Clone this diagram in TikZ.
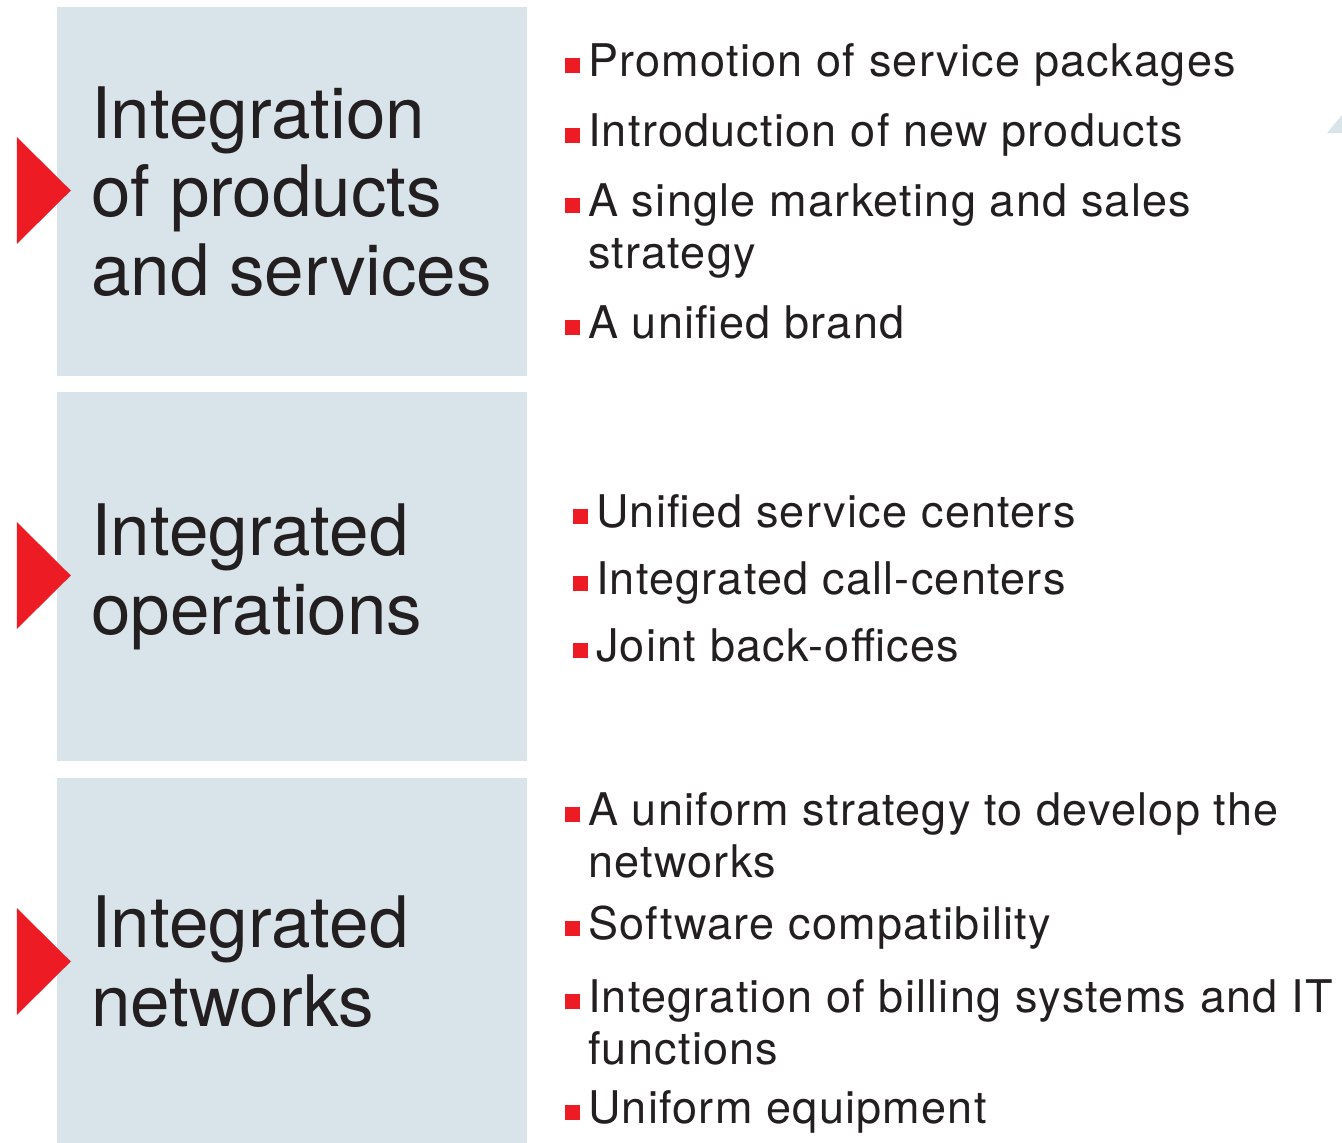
\documentclass[tikz,border=0pt]{standalone}
\usepackage{fontspec}
\setmainfont{TeX Gyre Heros}
\newfontfamily\listfont{TeX Gyre Heros}[LetterSpace=2.8]
\usetikzlibrary{calc}

\definecolor{panelblue}{HTML}{D9E4EA}
\definecolor{markred}{HTML}{ED1C24}
\definecolor{inkgray}{HTML}{231F20}

\tikzstyle{panel}=[rectangle,fill=panelblue,minimum width=470pt,minimum height=369pt,inner sep=0pt]
\tikzstyle{title}=[anchor=base west,align=left,inner sep=0pt,text=inkgray,font=\fontsize{71}{78.5}\selectfont]
\tikzstyle{item}=[anchor=base west,align=left,inner sep=0pt,text=inkgray,font=\listfont\fontsize{45}{52.5}\selectfont]
\tikzstyle{bullet}=[rectangle,fill=markred,minimum size=15pt,inner sep=0pt]

\begin{document}
\begin{tikzpicture}[x=1pt,y=-1pt]
			\useasboundingbox (0,0) rectangle (1342,1143);
			%Adding the grey panels
			\foreach \pos/\name in 	{{(292,191.5)/box1},	{(292,576.5)/box2},	{(292,962.5)/box3}}
			\node[panel] (\name) at \pos {};
			%Adding the red markers
			\foreach \name in {box1,box2,box3}
			\fill[markred] ($(\name.west)+(14,-1)$) -- ++(-54,-53.5) -- ++(0,107) -- cycle;
			%Adding the panel titles (placed at the baseline of the last line)
			\foreach \pos/\name/\text in 	{{(91,295)/title1/{Integration\\of products\\and services}},
									{(91,634)/title2/{Integrated\\operations}},
									{(91,1026)/title3/{Integrated\\networks}}}
			\node[title] (\name) at \pos {\text};
			%Adding the lists (x, first baseline, extra lines)
			\foreach \x/\y/\k/\name/\text in 	{588/76/0/i11/{Promotion of service packages},
									588/146/0/i12/{Introduction of new products},
									588/216/1/i13/{A single marketing and sales\\strategy},
									588/338/0/i14/{A unified brand},
									596/527/0/i21/{Unified service centers},
									596/594/0/i22/{Integrated call-centers},
									596/661/0/i23/{Joint back-offices},
									588/825/1/i31/{A uniform strategy to develop the\\networks},
									588/939/0/i32/{Software compatibility},
									588/1012/1/i33/{Integration of billing systems and IT\\functions},
									588/1123/0/i34/{Uniform equipment}}
			{
			\node[item] (\name) at (\x,{\y+\k*52.5}) {\text};
			\node[bullet] (b\name) at ({\x-16},{\y-11}) {};
			}
			%Corner piece
			\fill[panelblue] (1327,133) -- (1342,115) -- (1342,133) -- cycle;
		\end{tikzpicture}
\end{document}
